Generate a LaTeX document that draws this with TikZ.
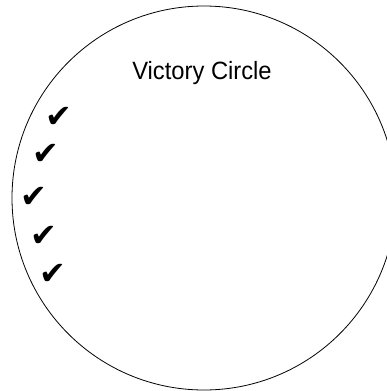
\documentclass[tikz,border=0pt]{standalone}
\usepackage{fontspec}
\setmainfont{Liberation Sans}
\newfontfamily\symfont{DejaVu Sans}
\begin{document}
\begin{tikzpicture}[
    x=1pt, y=-1pt,
    ring/.style={draw, line width=0.8pt},
    ttl/.style={font=\fontsize{25}{28}\selectfont, xscale=0.95, inner sep=0pt},
    tick/.style={font=\symfont\fontsize{32}{34}\selectfont, inner sep=0pt}
]
\useasboundingbox (0,0) rectangle (387,391);
\clip (0,0) rectangle (387,391);

\draw[ring] (204,198) circle[radius=192];

\node[ttl] (title) at (202,73) {Victory Circle};

\node[tick] (chk1) at (59,117) {✔};
\node[tick] (chk2) at (46,154) {✔};
\node[tick] (chk3) at (34,197) {✔};
\node[tick] (chk4) at (44,236) {✔};
\node[tick] (chk5) at (53,274) {✔};
\end{tikzpicture}
\end{document}
